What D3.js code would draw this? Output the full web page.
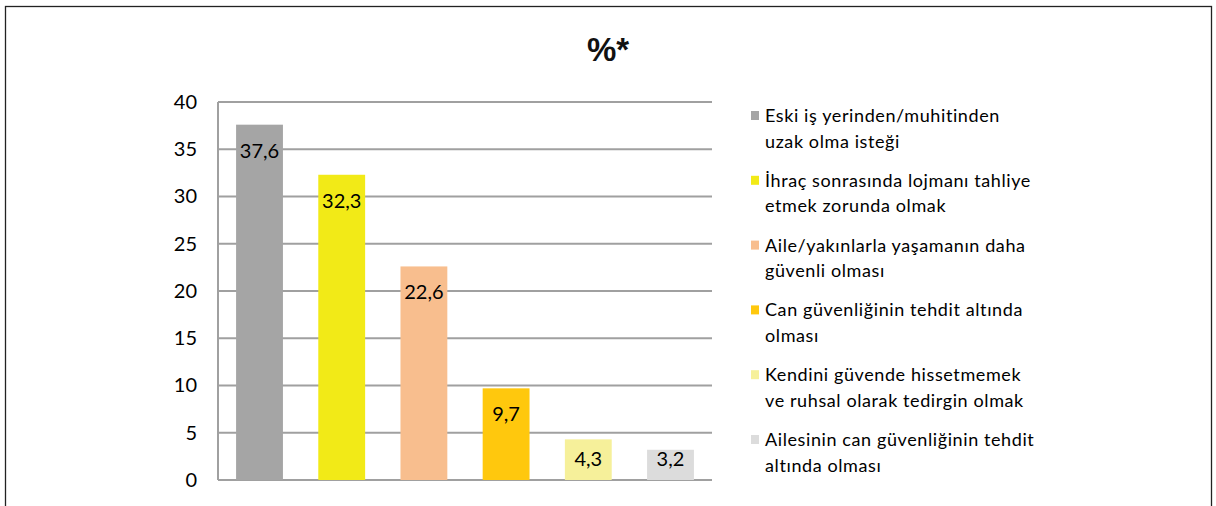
<!DOCTYPE html>
<html>
<head>
<meta charset="utf-8">
<script src="https://cdn.jsdelivr.net/npm/d3@7"></script>
<style>
  body { margin: 0; background: #fff; }
  svg { display: block; }
</style>
</head>
<body>
<svg id="chart"></svg>
<script>
const W = 1216, H = 506;

// data
const categories = [
  ["Eski iş yerinden/muhitinden", "uzak olma isteği"],
  ["İhraç sonrasında lojmanı tahliye", "etmek zorunda olmak"],
  ["Aile/yakınlarla yaşamanın daha", "güvenli olması"],
  ["Can güvenliğinin tehdit altında", "olması"],
  ["Kendini güvende hissetmemek", "ve ruhsal olarak tedirgin olmak"],
  ["Ailesinin can güvenliğinin tehdit", "altında olması"]
];
const values = [37.6, 32.3, 22.6, 9.7, 4.3, 3.2];
const colors = ["#a5a5a5", "#f2ea17", "#f8be8e", "#ffc80d", "#f6f09a", "#dcdcdc"];
const yTicks = [0, 5, 10, 15, 20, 25, 30, 35, 40];
const title = "%*";

const svg = d3.select('#chart').attr('width', W).attr('height', H);

// outer frame
svg.append('rect').attr('x', 5.5).attr('y', 6.5).attr('width', 1206).attr('height', 520)
  .attr('fill', 'none').attr('stroke', '#222').attr('stroke-width', 1.3);

svg.append('text').attr('x', 608).attr('y', 61).attr('text-anchor', 'middle')
  .style('font-family', 'Liberation Sans, Arial, sans-serif').style('font-weight', 'bold')
  .style('font-size', '33px').attr('fill', '#111').text(title);

const m = { left: 218, right: 712, top: 102, bottom: 480 };
const x = d3.scaleBand().domain(d3.range(values.length)).range([m.left, m.right]).paddingInner(0.43).paddingOuter(0.22);
const y = d3.scaleLinear().domain([0, 40]).range([m.bottom, m.top]);

// grid
const grid = svg.append('g');
yTicks.forEach(t => {
  grid.append('line').attr('x1', m.left).attr('x2', m.right)
    .attr('y1', y(t)).attr('y2', y(t)).attr('stroke', '#a0a0a0').attr('stroke-width', 2);
});
grid.append('line').attr('x1', m.left).attr('x2', m.left).attr('y1', m.top).attr('y2', m.bottom)
  .attr('stroke', '#a0a0a0').attr('stroke-width', 2);

// y axis labels
const ax = svg.append('g').attr('transform', `translate(${m.left},0)`)
  .call(d3.axisLeft(y).tickValues(yTicks).tickSize(0).tickPadding(21));
ax.select('.domain').remove();
ax.selectAll('text').style('font-family', 'Lato, sans-serif').style('font-size', '20px').attr('fill', '#000');

// bars
svg.append('g').selectAll('rect').data(values).join('rect')
  .attr('x', (d, i) => x(i)).attr('width', x.bandwidth())
  .attr('y', d => y(d)).attr('height', d => y(0) - y(d))
  .attr('fill', (d, i) => colors[i]);

// value labels
svg.append('g').selectAll('text').data(values).join('text')
  .attr('x', (d, i) => x(i) + x.bandwidth() / 2)
  .attr('y', d => Math.min(y(d) + 33, y(0) - 14))
  .attr('text-anchor', 'middle')
  .style('font-family', 'Lato, sans-serif').style('font-size', '20px').attr('fill', '#000')
  .text(d => String(d).replace('.', ','));

// legend
const lg = svg.append('g').attr('transform', 'translate(751,0)');
categories.forEach((lines, i) => {
  const y0 = 122 + i * 64.8;
  lg.append('rect').attr('x', 0).attr('y', y0 - 11).attr('width', 8).attr('height', 9).attr('fill', colors[i]);
  lines.forEach((s, j) => {
    lg.append('text').attr('x', 14).attr('y', y0 + j * 25.5)
      .style('font-family', 'Lato, sans-serif').style('font-size', '18px').style('letter-spacing', '0.6px')
      .attr('fill', '#000')
      .text(s);
  });
});
</script>
</body>
</html>
